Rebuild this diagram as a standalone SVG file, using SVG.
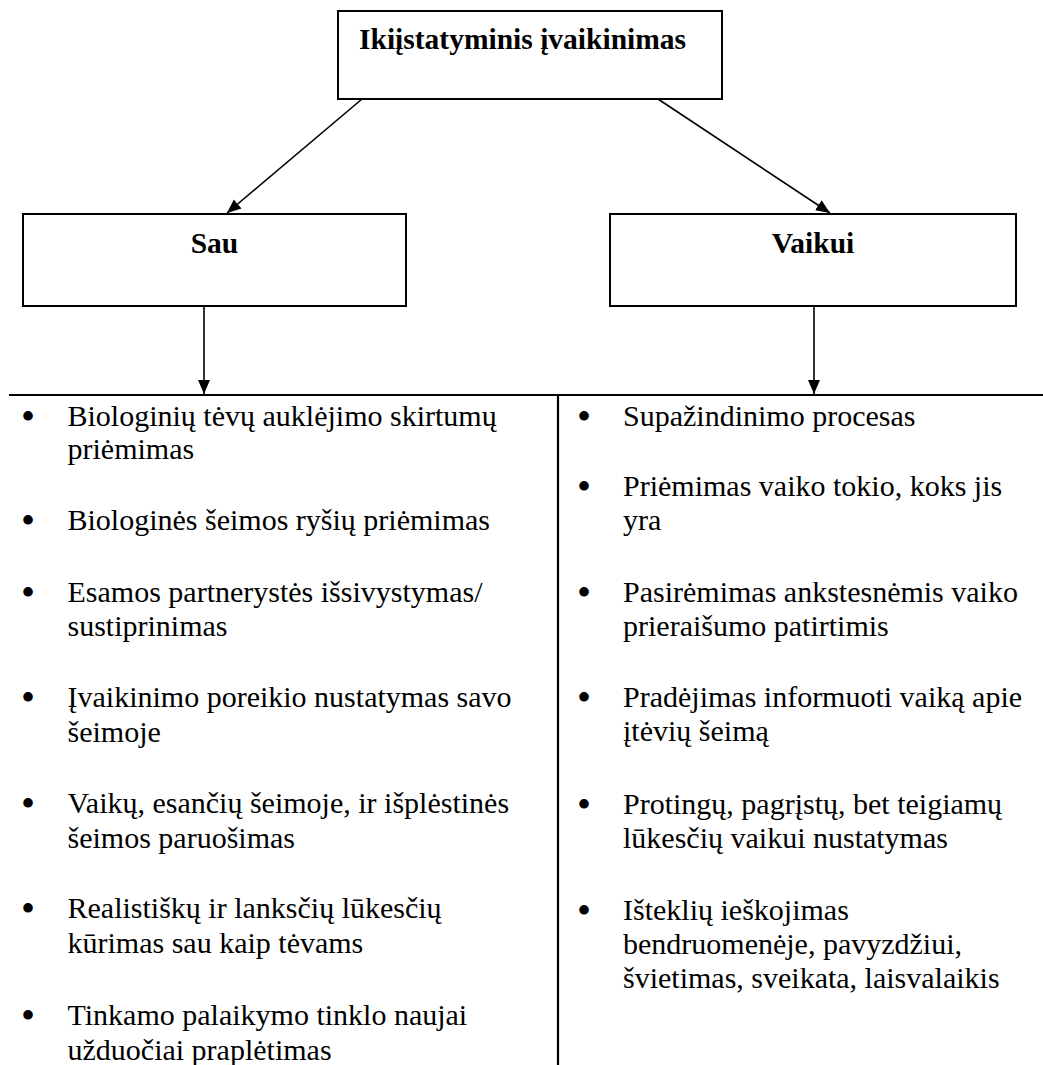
<svg xmlns="http://www.w3.org/2000/svg" width="1043" height="1065" viewBox="0 0 1043 1065">
  <style>
    .box { fill: #ffffff; stroke: #000000; stroke-width: 2; }
    .head { font-family: "Liberation Serif", "Times New Roman", serif; font-weight: bold; font-size: 29.5px; fill: #000000; }
    .item { font-family: "Liberation Serif", "Times New Roman", serif; font-size: 30px; fill: #000000; }
    .dot { font-family: "Liberation Serif", "Times New Roman", serif; font-size: 40px; fill: #000000; text-anchor: middle; }
    .link { stroke: #000000; stroke-width: 1.6; fill: none; }
    .rule { stroke: #000000; stroke-width: 2.2; fill: none; }
  </style>
  <defs>
    <marker id="arrow" markerUnits="userSpaceOnUse" markerWidth="16" markerHeight="14" refX="14" refY="6" orient="auto">
      <path d="M0,0 L14,6 L0,12 Z" fill="#000000"/>
    </marker>
  </defs>

  <rect width="1043" height="1065" fill="#ffffff"/>

  <!-- root node -->
  <g id="node-root">
    <rect class="box" x="338" y="11" width="384" height="88"/>
    <text class="head" x="359" y="49">Ikiįstatyminis įvaikinimas</text>
  </g>

  <!-- branch nodes -->
  <g id="node-sau">
    <rect class="box" x="23" y="214" width="383" height="92"/>
    <text class="head" x="214.5" y="253" text-anchor="middle">Sau</text>
  </g>
  <g id="node-vaikui">
    <rect class="box" x="610" y="214" width="406" height="92"/>
    <text class="head" x="813" y="253" text-anchor="middle">Vaikui</text>
  </g>

  <!-- connectors -->
  <g id="connectors">
    <line class="link" x1="362" y1="99" x2="227" y2="213" marker-end="url(#arrow)"/>
    <line class="link" x1="658" y1="99" x2="830" y2="213" marker-end="url(#arrow)"/>
    <line class="link" x1="204" y1="306" x2="204" y2="394" marker-end="url(#arrow)"/>
    <line class="link" x1="814" y1="306" x2="814" y2="394" marker-end="url(#arrow)"/>
  </g>

  <!-- table rules under the branches -->
  <g id="table-rules">
    <line class="rule" x1="9" y1="395" x2="1043" y2="395"/>
    <line class="rule" x1="558" y1="395" x2="558" y2="1065"/>
  </g>

  <!-- list for "Sau" -->
  <g id="list-sau">
    <text class="dot" x="28" y="430">•</text>
    <text class="item" x="67.5" y="426">Biologinių tėvų auklėjimo skirtumų</text>
    <text class="item" x="67.5" y="459">priėmimas</text>

    <text class="dot" x="28" y="534">•</text>
    <text class="item" x="67.5" y="530">Biologinės šeimos ryšių priėmimas</text>

    <text class="dot" x="28" y="606">•</text>
    <text class="item" x="67.5" y="602">Esamos partnerystės išsivystymas/</text>
    <text class="item" x="67.5" y="636">sustiprinimas</text>

    <text class="dot" x="28" y="711">•</text>
    <text class="item" x="67.5" y="707">Įvaikinimo poreikio nustatymas savo</text>
    <text class="item" x="67.5" y="742">šeimoje</text>

    <text class="dot" x="28" y="817">•</text>
    <text class="item" x="67.5" y="813">Vaikų, esančių šeimoje, ir išplėstinės</text>
    <text class="item" x="67.5" y="848">šeimos paruošimas</text>

    <text class="dot" x="28" y="922">•</text>
    <text class="item" x="67.5" y="918">Realistiškų ir lanksčių lūkesčių</text>
    <text class="item" x="67.5" y="953">kūrimas sau kaip tėvams</text>

    <text class="dot" x="28" y="1029">•</text>
    <text class="item" x="67.5" y="1025">Tinkamo palaikymo tinklo naujai</text>
    <text class="item" x="67.5" y="1060">užduočiai praplėtimas</text>
  </g>

  <!-- list for "Vaikui" -->
  <g id="list-vaikui">
    <text class="dot" x="584" y="430">•</text>
    <text class="item" x="623" y="426">Supažindinimo procesas</text>

    <text class="dot" x="584" y="500">•</text>
    <text class="item" x="623" y="496">Priėmimas vaiko tokio, koks jis</text>
    <text class="item" x="623" y="530">yra</text>

    <text class="dot" x="584" y="606">•</text>
    <text class="item" x="623" y="602">Pasirėmimas ankstesnėmis vaiko</text>
    <text class="item" x="623" y="636">prieraišumo patirtimis</text>

    <text class="dot" x="584" y="711">•</text>
    <text class="item" x="623" y="707">Pradėjimas informuoti vaiką apie</text>
    <text class="item" x="623" y="741">įtėvių šeimą</text>

    <text class="dot" x="584" y="818">•</text>
    <text class="item" x="623" y="814">Protingų, pagrįstų, bet teigiamų</text>
    <text class="item" x="623" y="848">lūkesčių vaikui nustatymas</text>

    <text class="dot" x="584" y="924">•</text>
    <text class="item" x="623" y="920">Išteklių ieškojimas</text>
    <text class="item" x="623" y="954">bendruomenėje, pavyzdžiui,</text>
    <text class="item" x="623" y="988">švietimas, sveikata, laisvalaikis</text>
  </g>
</svg>
